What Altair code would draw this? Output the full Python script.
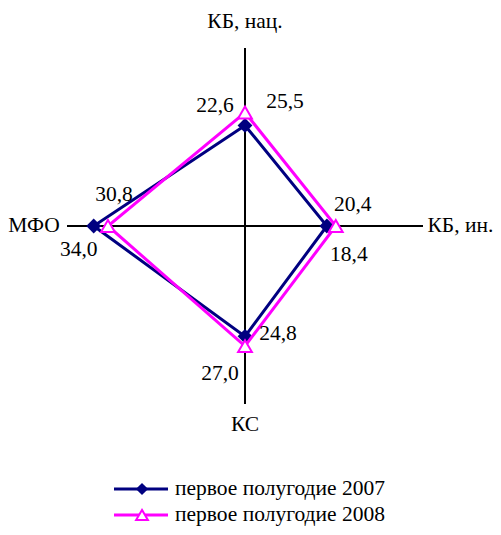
import altair as alt
import pandas as pd

categories = ["КБ, нац.", "КБ, ин.", "КС", "МФО"]
series_names = ["первое полугодие 2007", "первое полугодие 2008"]
values_2007 = [22.6, 18.4, 24.8, 34.0]
values_2008 = [25.5, 20.4, 27.0, 30.8]
r_max = 40

colors = {"первое полугодие 2007": "#000080", "первое полугодие 2008": "#FF00FF"}
FONT = "Liberation Serif, Times New Roman, serif"
FS = 21.5

rows = []
for s, vals in zip(series_names, [values_2007, values_2008]):
    for i, (c, v) in enumerate(zip(categories, vals)):
        rows.append({"series": s, "category": c, "idx": i, "value": v,
                     "label": f"{v:.1f}".replace(".", ",")})
df = pd.DataFrame(rows)

xs = alt.Scale(domain=[-r_max, r_max], nice=False, zero=False)
ys = alt.Scale(domain=[-r_max, r_max], nice=False, zero=False)

base = alt.Chart(df).transform_calculate(
    ang="datum.idx * PI / 2",
).transform_calculate(
    px="datum.value * sin(datum.ang)",
    py="datum.value * cos(datum.ang)",
)

X = alt.X("px:Q", scale=xs, axis=None)
Y = alt.Y("py:Q", scale=ys, axis=None)

# axes
axes_df = pd.DataFrame({"category": categories, "idx": list(range(4))})
axes = alt.Chart(axes_df).transform_calculate(
    ang="datum.idx * PI / 2",
).transform_calculate(
    ex=f"{r_max} * sin(datum.ang)",
    ey=f"{r_max} * cos(datum.ang)",
    zero="0",
).mark_rule(color="black", strokeWidth=2).encode(
    x=alt.X("zero:Q", scale=xs, axis=None),
    y=alt.Y("zero:Q", scale=ys, axis=None),
    x2="ex:Q", y2="ey:Q",
)

layers = [axes]

# series lines and markers
for s in series_names:
    col = colors[s]
    sub = base.transform_filter(alt.datum.series == s)
    layers.append(sub.mark_line(interpolate="linear-closed", strokeWidth=3, color=col).encode(
        x=X, y=Y, order="idx:Q"))
    if s == series_names[0]:
        layers.append(sub.mark_point(shape="diamond", filled=True, size=220, color=col, opacity=1).encode(x=X, y=Y))
    else:
        layers.append(sub.mark_point(shape="triangle-up", filled=True, size=190, fill="white",
                                     stroke=col, strokeWidth=2, opacity=1).encode(x=X, y=Y))

# data labels (style offsets per point)
label_offsets = {
    ("первое полугодие 2007", 0): (-30, -19),
    ("первое полугодие 2007", 1): (22, 29),
    ("первое полугодие 2007", 2): (33, -2),
    ("первое полугодие 2007", 3): (-15, 24),
    ("первое полугодие 2008", 0): (40, -11),
    ("первое полугодие 2008", 1): (17, -21),
    ("первое полугодие 2008", 2): (-25, 28),
    ("первое полугодие 2008", 3): (6, -31),
}
for (s, i), (dx, dy) in label_offsets.items():
    layers.append(base.transform_filter((alt.datum.series == s) & (alt.datum.idx == i)).mark_text(
        font=FONT, fontSize=FS, color="black", dx=dx, dy=dy, baseline="middle", align="center"
    ).encode(x=X, y=Y, text="label:N"))

# category labels
cat_style = [  # (radius, align)
    (45.8, "center"),
    (41.0, "left"),
    (44.7, "center"),
    (41.6, "right"),
]
for i, (rr, al) in enumerate(cat_style):
    layers.append(alt.Chart(axes_df).transform_filter(alt.datum.idx == i).transform_calculate(
        ang="datum.idx * PI / 2",
    ).transform_calculate(
        lx=f"{rr} * sin(datum.ang)",
        ly=f"{rr} * cos(datum.ang)",
    ).mark_text(font=FONT, fontSize=FS, color="black", align=al, baseline="middle").encode(
        x=alt.X("lx:Q", scale=xs, axis=None),
        y=alt.Y("ly:Q", scale=ys, axis=None),
        text="category:N",
    ))

# manual legend
leg_y = [441, 467]
for s, yy in zip(series_names, leg_y):
    col = colors[s]
    ld = base.transform_filter((alt.datum.series == s) & (alt.datum.idx == 0))
    layers.append(ld.mark_rule(color=col, strokeWidth=3).encode(
        x=alt.value(47), x2=alt.value(101), y=alt.value(yy)))
    if s == series_names[0]:
        layers.append(ld.mark_point(shape="diamond", filled=True, size=150, color=col, opacity=1).encode(
            x=alt.value(75), y=alt.value(yy)))
    else:
        layers.append(ld.mark_point(shape="triangle-up", filled=True, size=140, fill="white",
                                    stroke=col, strokeWidth=2, opacity=1).encode(
            x=alt.value(75), y=alt.value(yy)))
    layers.append(ld.mark_text(font=FONT, fontSize=FS, color="black", align="left", baseline="middle").encode(
        x=alt.value(108), y=alt.value(yy), text="series:N"))

chart = alt.layer(*layers).properties(
    width=356, height=356,
    autosize=alt.AutoSizeParams(type="none"),
    padding={"left": 59, "top": 40, "right": 70, "bottom": 123},
).configure_view(stroke=None)

chart.save("out.html", embed_options={"renderer": "svg", "actions": False})
